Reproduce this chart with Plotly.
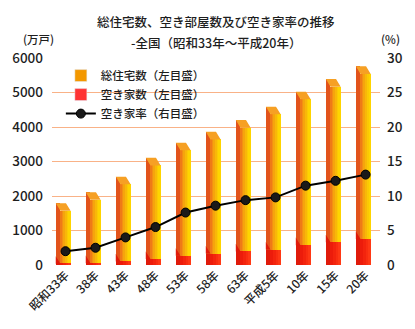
import plotly.graph_objects as go

# ---- data ----
categories = ["昭和33年", "38年", "43年", "48年", "53年", "58年", "63年", "平成5年", "10年", "15年", "20年"]
total_houses = [1793, 2109, 2559, 3106, 3545, 3861, 4201, 4588, 5025, 5389, 5759]   # 万戸
vacant_houses = [36, 52, 103, 172, 268, 330, 394, 448, 576, 659, 757]             # 万戸
vacancy_rate = [2.0, 2.5, 4.0, 5.5, 7.6, 8.6, 9.4, 9.8, 11.5, 12.2, 13.1]         # %

# ---- style constants (3D look) ----
DEPTH = 220            # visual depth of the pseudo-3D bar, in axis units
SIDE_L, SIDE_R = -0.325, -0.17   # left (side) face, relative to category
FRONT_L, FRONT_R = -0.17, 0.17   # front face
SHIFT = SIDE_R - SIDE_L          # back edge shift
front_orange = ["#EF7A17", "#F28F12", "#F5A40D", "#F8B808", "#FBC904", "#FED400"]
front_red = ["#EC1C0B", "#F3240D", "#F92E10", "#FF3814"]
side_orange = "#E2531B"
side_red = "#E01A0A"
cap_orange = "#F6A024"
grid_col = "#F9B287"
FONT = "Noto Sans CJK JP"
TXT = "#1e1e1e"

idx = list(range(len(categories)))
fig = go.Figure()

# legend-only entries
fig.add_trace(go.Bar(x=[None], y=[None], name="総住宅数（左目盛）", marker_color="#F39800"))
fig.add_trace(go.Bar(x=[None], y=[None], name="空き家数（左目盛）", marker_color="#FF3333"))

def bar(vals, color, left, right):
    fig.add_trace(go.Bar(x=idx, y=vals, width=right - left, offset=left,
                         marker=dict(color=color, line=dict(width=0)),
                         showlegend=False, hoverinfo="skip"))

# orange: side face (to total), front face (to total-DEPTH)
bar(total_houses, side_orange, SIDE_L, SIDE_R)
front_tot = [t - DEPTH for t in total_houses]
n = len(front_orange)
sw = (FRONT_R - FRONT_L) / n
for k, c in enumerate(front_orange):
    bar(front_tot, c, FRONT_L + k * sw, FRONT_L + (k + 1) * sw + 0.004)

# red: side face rect, front face strips
bar(vacant_houses, side_red, SIDE_L, SIDE_R)
m = len(front_red)
rw = (FRONT_R - FRONT_L) / m
for k, c in enumerate(front_red):
    bar(vacant_houses, c, FRONT_L + k * rw, FRONT_L + (k + 1) * rw + 0.004)

# caps on top of orange bars
cx, cy = [], []
for i, t in zip(idx, total_houses):
    cx += [i + SIDE_L, i + FRONT_R - SHIFT, i + FRONT_R, i + FRONT_L, i + SIDE_L, None]
    cy += [t, t, t - DEPTH, t - DEPTH, t, None]
fig.add_trace(go.Scatter(x=cx, y=cy, mode="lines", fill="toself", fillcolor=cap_orange,
                         line=dict(width=0), showlegend=False, hoverinfo="skip"))

# red sloped top on side face
rx, ry = [], []
for i, v in zip(idx, vacant_houses):
    rx += [i + SIDE_L, i + SIDE_L, i + SIDE_R, i + SIDE_L, None]
    ry += [v, v + DEPTH, v, v, None]
fig.add_trace(go.Scatter(x=rx, y=ry, mode="lines", fill="toself", fillcolor=side_red,
                         line=dict(width=0), showlegend=False, hoverinfo="skip"))

# vacancy rate line
fig.add_trace(go.Scatter(x=idx, y=vacancy_rate, yaxis="y2", mode="lines+markers",
                         name="空き家率（右目盛）",
                         line=dict(color="#000000", width=2),
                         marker=dict(size=9, color="#1a1a1a", line=dict(color="#000", width=1))))

fig.update_layout(
    width=415, height=329,
    margin=dict(l=47, r=32, t=58, b=64),
    paper_bgcolor="white", plot_bgcolor="white",
    barmode="overlay", bargap=0,
    font=dict(family=FONT, size=12, color=TXT, weight=500),
    showlegend=True,
    legend=dict(x=0.027, y=0.985, xanchor="left", yanchor="top",
                bgcolor="rgba(0,0,0,0)", font=dict(size=11.5, color=TXT, weight=500),
                tracegroupgap=0, itemwidth=30),
    xaxis=dict(range=[-0.45, 10.48], tickmode="array", tickvals=idx, ticktext=categories,
               tickangle=-45, showgrid=False, zeroline=False, showline=False, ticks="",
               tickfont=dict(size=12, color=TXT, weight=500)),
    yaxis=dict(range=[0, 6000], dtick=1000, showgrid=True, gridcolor=grid_col, gridwidth=1,
               zeroline=False, showline=False, ticks="", ticklabelstandoff=8,
               tickfont=dict(size=13.5, color=TXT, weight=500)),
    yaxis2=dict(range=[0, 30], dtick=5, overlaying="y", side="right", showgrid=False,
                zeroline=False, showline=False, ticks="", ticklabelstandoff=6,
                tickfont=dict(size=13.5, color=TXT, weight=500)),
    annotations=[
        dict(text="総住宅数、空き部屋数及び空き家率の推移", xref="paper", yref="paper",
             x=0.5, y=1.174, xanchor="center", yanchor="middle", showarrow=False,
             font=dict(size=12.5, color=TXT, weight=500)),
        dict(text="-全国（昭和33年～平成20年）", xref="paper", yref="paper",
             x=0.5, y=1.075, xanchor="center", yanchor="middle", showarrow=False,
             font=dict(size=12.5, color=TXT, weight=500)),
        dict(text="(万戸)", xref="paper", yref="paper", x=-0.042, y=1.094,
             xanchor="center", yanchor="middle", showarrow=False,
             font=dict(size=11.5, color=TXT, weight=500)),
        dict(text="(%)", xref="paper", yref="paper", x=1.033, y=1.094,
             xanchor="center", yanchor="middle", showarrow=False,
             font=dict(size=11.5, color=TXT, weight=500)),
    ],
)

fig.write_html("out.html")
